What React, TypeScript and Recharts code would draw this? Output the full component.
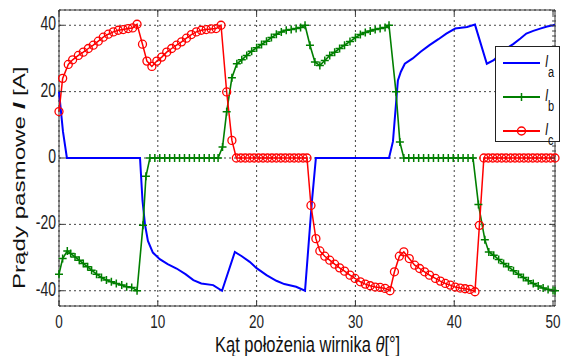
import { LineChart, Line, XAxis, YAxis, CartesianGrid, ReferenceArea } from "recharts";

// phase currents: [rotor angle in deg, current in A]
const phaseA: [number, number][] = [
  [0, 20], [0.4, 8], [0.8, 0], [8.2, 0], [8.45, -12.8], [8.7, -20], [9.0, -25], [9.5, -28.5],
  [10.2, -30.5], [11.0, -32], [11.9, -33.3], [12.8, -35], [13.6, -36.8], [14.4, -37.8], [15.6, -38.3],
  [16.5, -40], [17.8, -28.3], [18.5, -29.6], [19.3, -31.3], [20.0, -33.2], [21.0, -35.3], [22.0, -37],
  [22.8, -38], [24.0, -38.8], [24.9, -40], [25.6, -13], [26.0, 0], [33.4, 0], [33.8, 5], [34.3, 23.4],
  [34.6, 26], [35.0, 28.4], [35.8, 30], [36.6, 32], [37.5, 34], [38.4, 35.8], [39.2, 37.5], [40.1, 39],
  [41.3, 39.5], [42.1, 40.2], [43.3, 28.4], [44.0, 29.5], [44.5, 31], [45.2, 32.8], [46.0, 34.4],
  [46.7, 36], [47.3, 37.5], [48.0, 38.3], [48.7, 39], [49.4, 39.6], [50.0, 40], [50.2, 40.2],
];

const phaseB: [number, number][] = [
  [0, -35], [0.37, -30.3], [0.84, -28], [1.18, -28.8], [1.62, -29.8], [2.05, -30.8], [2.46, -31.8],
  [2.9, -32.8], [3.3, -33.8], [3.8, -35], [4.3, -36], [4.8, -36.8], [5.3, -37.3], [5.8, -37.8],
  [6.35, -38.3], [6.85, -38.8], [7.36, -39], [7.9, -40], [8.5, -20.3], [8.8, -5.5], [9.2, 0], [9.7, 0],
  [10.2, 0], [10.7, 0], [11.2, 0], [11.7, 0], [12.2, 0], [12.7, 0], [13.2, 0], [13.7, 0], [14.2, 0],
  [14.7, 0], [15.2, 0], [15.7, 0], [16.1, 0], [16.55, 3.3], [16.97, 13.9], [17.5, 24.2], [18.0, 28.4],
  [18.5, 29.6], [19.0, 30.9], [19.5, 32.2], [20.0, 33.2], [20.5, 34.2], [21.0, 35.2], [21.5, 36.3],
  [22.0, 37.3], [22.5, 38], [23.0, 38.5], [23.5, 38.7], [24.0, 39], [24.45, 39.3], [24.9, 40],
  [25.4, 34], [25.9, 28.9], [26.4, 27.9], [26.9, 29.4], [27.4, 30.9], [27.9, 31.9], [28.4, 33],
  [28.9, 34], [29.45, 35.1], [30.0, 36.3], [30.5, 37.2], [31.0, 37.8], [31.5, 38.3], [32.0, 38.7],
  [32.5, 39], [33.0, 39.3], [33.4, 40], [34.1, 20], [34.5, 4.8], [34.9, 0], [35.4, 0], [35.9, 0],
  [36.4, 0], [36.9, 0], [37.4, 0], [37.9, 0], [38.4, 0], [38.9, 0], [39.4, 0], [39.9, 0], [40.4, 0],
  [40.9, 0], [41.4, 0], [41.9, 0], [42.45, -14], [43.1, -24.6], [43.5, -28.3], [44.0, -29.3],
  [44.5, -30.6], [45.0, -31.8], [45.5, -32.8], [46.0, -34], [46.5, -35], [47.0, -36], [47.5, -37],
  [48.0, -37.8], [48.5, -38.6], [49.0, -39.2], [49.5, -39.6], [50.0, -39.9], [50.2, -40],
];

const phaseC: [number, number][] = [
  [0, 14], [0.37, 24], [0.94, 28.2], [1.38, 29.6], [1.96, 30.9], [2.46, 31.9], [2.97, 33], [3.47, 34],
  [3.98, 35.2], [4.48, 36.4], [4.99, 37.3], [5.5, 38], [6.0, 38.5], [6.5, 38.7], [7.0, 39], [7.45, 39.2],
  [7.9, 40.3], [8.45, 34.3], [8.9, 29.2], [9.4, 27.6], [9.9, 29.2], [10.4, 30.4], [10.9, 31.9],
  [11.4, 33], [11.9, 34], [12.4, 35], [12.9, 36.1], [13.4, 37.2], [13.9, 38], [14.4, 38.5],
  [14.9, 38.7], [15.4, 38.9], [15.9, 39], [16.4, 40], [16.97, 19.9], [17.5, 5.3], [17.95, 0],
  [18.4, 0], [18.85, 0], [19.3, 0], [19.75, 0], [20.2, 0], [20.65, 0], [21.1, 0], [21.55, 0], [22.0, 0],
  [22.45, 0], [22.9, 0], [23.35, 0], [23.8, 0], [24.25, 0], [24.7, 0], [25.1, 0], [25.5, -14.3],
  [26.0, -24.3], [26.4, -28], [26.9, -29.6], [27.4, -30.8], [27.9, -32], [28.4, -33.1], [28.9, -34.1],
  [29.45, -35.3], [29.96, -36.3], [30.5, -37.3], [31.0, -38], [31.5, -38.5], [32.0, -38.9],
  [32.5, -39], [33.0, -39.3], [33.5, -40], [33.95, -34.3], [34.45, -29.6], [34.9, -28.3],
  [35.45, -30.3], [36.0, -32.3], [36.5, -33.3], [37.0, -34.3], [37.5, -35.3], [38.1, -36.3],
  [38.6, -37.1], [39.1, -37.8], [39.6, -38.3], [40.1, -38.9], [40.6, -39.2], [41.1, -39.4],
  [41.6, -39.6], [42.1, -40.3], [42.55, -20.3], [43.0, 0], [43.45, 0], [43.9, 0], [44.35, 0],
  [44.8, 0], [45.25, 0], [45.7, 0], [46.15, 0], [46.6, 0], [47.05, 0], [47.5, 0], [47.95, 0],
  [48.4, 0], [48.85, 0], [49.3, 0], [49.75, 0], [50.2, 0],
];

const xTicks = [0, 10, 20, 30, 40, 50];
const yTicks = [-40, -20, 0, 20, 40];
const xDomain: [number, number] = [0, 50.2];
const yDomain: [number, number] = [-44.6, 44.6];

const legendItems = [
  { sub: "a", color: "#0000ff", marker: "none" },
  { sub: "b", color: "#007f00", marker: "plus" },
  { sub: "c", color: "#ff0000", marker: "circle" },
];

const W = 564;
const H = 356;
const PLOT_TOP = 10;
const PLOT_BOTTOM = 306;
const PLOT_LEFT = 59;
const PLOT_RIGHT = 555;
const FONT = '"Liberation Sans", Arial, Helvetica, sans-serif';
const STRETCH = 1.4; // the original picture is squeezed horizontally

const toPoints = (pairs: [number, number][]) => pairs.map(([x, y]) => ({ x, y }));

function XTick(props: any) {
  const { x, y, payload } = props;
  return (
    <g>
      <line x1={x} x2={x} y1={PLOT_BOTTOM} y2={PLOT_BOTTOM - 5} stroke="#333" />
      <line x1={x} x2={x} y1={PLOT_TOP} y2={PLOT_TOP + 5} stroke="#333" />
      <text
        transform={`translate(${x},${y}) scale(1,${STRETCH})`}
        textAnchor="middle"
        fontSize={13.5}
        fontFamily={FONT}
        fill="#222"
      >
        {payload.value}
      </text>
    </g>
  );
}

function YTick(props: any) {
  const { x, y, payload } = props;
  return (
    <g>
      <line x1={PLOT_LEFT} x2={PLOT_LEFT + 5} y1={y} y2={y} stroke="#333" />
      <line x1={PLOT_RIGHT} x2={PLOT_RIGHT - 5} y1={y} y2={y} stroke="#333" />
      <text
        transform={`translate(${x},${y + 5}) scale(1,${STRETCH})`}
        textAnchor="end"
        fontSize={14}
        fontFamily={FONT}
        fill="#222"
      >
        {payload.value}
      </text>
    </g>
  );
}

function PlusDot(props: any) {
  const { cx, cy, index } = props;
  if (cx == null || cy == null) return <g key={index} />;
  return (
    <path
      key={index}
      d={`M${cx - 4},${cy}h8M${cx},${cy - 4}v8`}
      stroke="#007f00"
      strokeWidth={1.5}
      fill="none"
    />
  );
}

function Overlay() {
  return (
    <svg
      width={W}
      height={H}
      style={{ position: "absolute", left: 0, top: 0, pointerEvents: "none" }}
    >
      <text
        transform={`translate(25,289) rotate(-90) scale(1.42,1)`}
        fontSize={17}
        fontFamily={FONT}
        fill="#111"
      >
        Prądy pasmowe <tspan fontStyle="italic" fontWeight="bold">I</tspan> [A]
      </text>
      <text
        transform={`translate(215,352) scale(1,1.35)`}
        fontSize={16.5}
        fontFamily={FONT}
        fill="#111"
      >
        Kąt położenia wirnika <tspan fontStyle="italic">θ</tspan>[°]
      </text>

      <rect x={495.5} y={46.5} width={64} height={95} fill="#fff" stroke="#222" />
      {legendItems.map((item, i) => {
        const ly = 63 + 34 * i;
        return (
          <g key={item.sub}>
            <line x1={503} x2={540} y1={ly} y2={ly} stroke={item.color} strokeWidth={2} />
            {item.marker === "plus" && (
              <path d={`M517.5,${ly}h8M521.5,${ly - 4}v8`} stroke={item.color} strokeWidth={1.5} />
            )}
            {item.marker === "circle" && (
              <circle cx={521.5} cy={ly} r={4} fill="none" stroke={item.color} strokeWidth={1.4} />
            )}
            <text
              transform={`translate(545,${ly + 4}) scale(1,${STRETCH})`}
              fontSize={12}
              fontStyle="italic"
              fontFamily={FONT}
              fill="#111"
            >
              I
            </text>
            <text
              transform={`translate(548,${ly + 14}) scale(1,${STRETCH})`}
              fontSize={11}
              fontFamily={FONT}
              fill="#111"
            >
              {item.sub}
            </text>
          </g>
        );
      })}
    </svg>
  );
}

export default function App() {
  return (
    <div style={{ position: "absolute", left: 0, top: 0, width: W, height: H, background: "#fff" }}>
      <LineChart
        width={W}
        height={H}
        margin={{ top: PLOT_TOP, right: W - PLOT_RIGHT, bottom: 0, left: 0 }}
      >
        <CartesianGrid stroke="#444" strokeDasharray="2 3" />
        <XAxis
          dataKey="x"
          type="number"
          domain={xDomain}
          ticks={xTicks}
          height={H - PLOT_BOTTOM}
          axisLine={false}
          tickLine={false}
          tickSize={0}
          tickMargin={22}
          tick={<XTick />}
        />
        <YAxis
          type="number"
          domain={yDomain}
          ticks={yTicks}
          width={PLOT_LEFT}
          axisLine={false}
          tickLine={false}
          tickSize={0}
          tickMargin={3}
          tick={<YTick />}
        />
        <ReferenceArea
          x1={xDomain[0]}
          x2={xDomain[1]}
          y1={yDomain[0]}
          y2={yDomain[1]}
          fill="none"
          fillOpacity={0}
          stroke="#333"
          strokeOpacity={1}
          ifOverflow="visible"
        />
        <Line
          data={toPoints(phaseA)}
          dataKey="y"
          type="linear"
          stroke="#0000ff"
          strokeWidth={2}
          dot={false}
          activeDot={false}
          isAnimationActive={false}
        />
        <Line
          data={toPoints(phaseB)}
          dataKey="y"
          type="linear"
          stroke="#007f00"
          strokeWidth={1.6}
          dot={PlusDot}
          activeDot={false}
          isAnimationActive={false}
        />
        <Line
          data={toPoints(phaseC)}
          dataKey="y"
          type="linear"
          stroke="#ff0000"
          strokeWidth={1.5}
          dot={{ r: 4, fill: "none", stroke: "#ff0000", strokeWidth: 1.3 }}
          activeDot={false}
          isAnimationActive={false}
        />
      </LineChart>
      <Overlay />
    </div>
  );
}
